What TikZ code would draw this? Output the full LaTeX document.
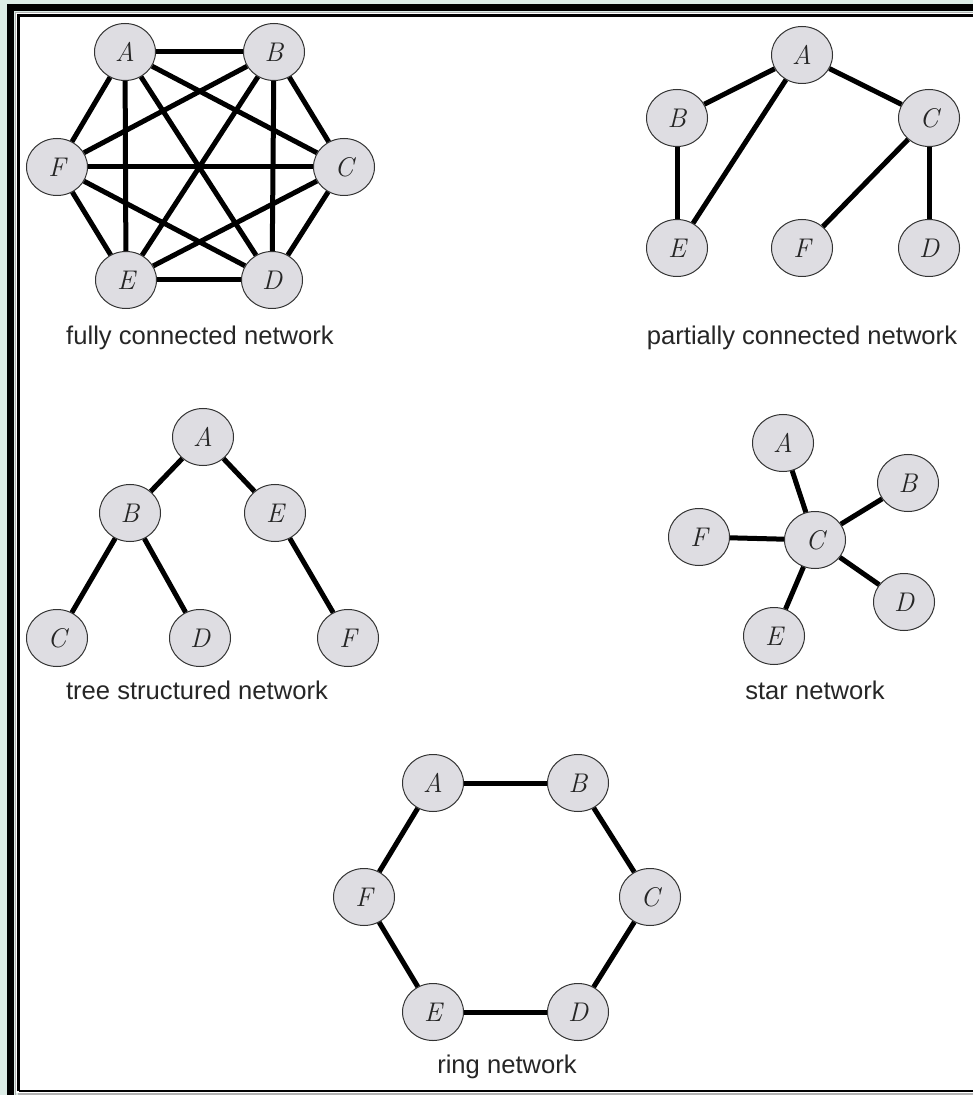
\documentclass[tikz,border=0pt]{standalone}
\usepackage{fontspec}
\setsansfont{Liberation Sans}
\usepackage{xcolor}
\usetikzlibrary{shapes.geometric, positioning}
\definecolor{hostgray}{HTML}{DEDDE2}
\definecolor{mintbg}{HTML}{DCECE6}

\begin{document}
\begin{tikzpicture}[
  x=0.5pt, y=-0.5pt, % coordonnées en pixels
  host/.style={ellipse, draw=black!80, line width=0.5pt, fill=hostgray, minimum width=30.5pt, minimum height=28.5pt, inner sep=0pt, font=\rmfamily\itshape\fontsize{13.5}{14}\selectfont, text=black!85},
  link/.style={line width=2.5pt},
  caption/.style={font=\sffamily\fontsize{12.8}{14}\selectfont, text=black!85}
]
\useasboundingbox (0,0) rectangle (973,1095);

% Cadre
\fill[mintbg] (0,0) rectangle (973,1095);
\fill[white] (15,13) rectangle (973,1093);
\fill[black] (7,4) rectangle (14,1095);
\fill[black] (7,4) rectangle (973,11);
\draw[gray!60, line width=0.6pt] (15.5,1095) -- (15.5,12.5) -- (973,12.5);
\draw[gray!60, line width=0.6pt] (18,1094) -- (973,1094);
\draw[line width=1.2pt] (18.5,1091) -- (18.5,15.5) -- (973,15.5);
\draw[line width=1.2pt] (18.5,1091) -- (973,1091);

% Réseau complètement connecté
\node[host] (fA) at (125,52) {A};
\node[host] (fB) at (274,52) {B};
\node[host] (fF) at (57,167) {F};
\node[host] (fC) at (344,167) {C};
\node[host] (fE) at (126,280) {E};
\node[host] (fD) at (272,280) {D};
\foreach \u/\v in {A/B, A/C, A/D, A/E, A/F, B/C, B/D, B/E, B/F, C/D, C/E, C/F, D/E, D/F, E/F}
  \draw[link] (f\u) -- (f\v);
\node[caption] (fcap) at (200,338) {fully connected network};

% Réseau partiellement connecté
\node[host] (pA) at (802,55) {A};
\node[host] (pB) at (677,118) {B};
\node[host] (pC) at (929,118) {C};
\node[host] (pE) at (677,248) {E};
\node[host] (pF) at (802,248) {F};
\node[host] (pD) at (929,248) {D};
\foreach \u/\v in {A/B, A/E, A/C, B/E, C/F, C/D}
  \draw[link] (p\u) -- (p\v);
\node[caption] (pcap) at (802,338) {partially connected network};

% Réseau en arbre
\node[host] (tA) at (203,437) {A};
\node[host] (tB) at (130,513) {B};
\node[host] (tE) at (275,513) {E};
\node[host] (tC) at (57,638) {C};
\node[host] (tD) at (200,638) {D};
\node[host] (tF) at (348,638) {F};
\foreach \u/\v in {A/B, A/E, B/C, B/D, E/F}
  \draw[link] (t\u) -- (t\v);
\node[caption] (tcap) at (197,690) {tree structured network};

% Réseau en étoile
\node[host] (sC) at (815,540) {C};
\node[host] (sA) at (783,443) {A};
\node[host] (sB) at (908,483) {B};
\node[host] (sF) at (699,537) {F};
\node[host] (sD) at (904,602) {D};
\node[host] (sE) at (774,636) {E};
\foreach \v in {A, B, D, E, F}
  \draw[link] (sC) -- (s\v);
\node[caption] (scap) at (815,690) {star network};

% Réseau en anneau
\node[host] (rA) at (433,783) {A};
\node[host] (rB) at (578,783) {B};
\node[host] (rF) at (364,897) {F};
\node[host] (rC) at (650,897) {C};
\node[host] (rE) at (433,1012) {E};
\node[host] (rD) at (578,1012) {D};
\foreach \u/\v in {A/B, B/C, C/D, D/E, E/F, F/A}
  \draw[link] (r\u) -- (r\v);
\node[caption] (rcap) at (507,1067) {ring network};

\end{tikzpicture}
\end{document}
